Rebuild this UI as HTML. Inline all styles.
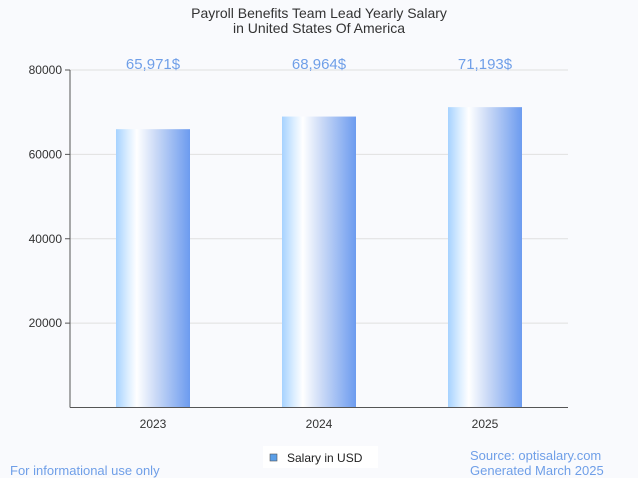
<!DOCTYPE html>
<html><head><meta charset="utf-8"><style>
body{margin:0;background:#f9fafd;font-family:"Liberation Sans",sans-serif;}
#c{position:relative;width:638px;height:478px;background:#f9fafd;overflow:hidden}
.t{position:absolute;white-space:nowrap}
</style></head><body>
<div id="c">
<svg id="s" width="638" height="478" style="position:absolute;left:0;top:0">
<defs><linearGradient id="g" x1="0" x2="1" y1="0" y2="0">
<stop offset="0" stop-color="#a6d2ff"/><stop offset="0.15" stop-color="#d8ecff"/><stop offset="0.28" stop-color="#ffffff"/><stop offset="0.55" stop-color="#c8d8f6"/><stop offset="1" stop-color="#6c9bef"/></linearGradient></defs>
<text x="319" y="18" text-anchor="middle" font-size="14" fill="#333">Payroll Benefits Team Lead Yearly Salary</text>
<text x="319" y="33" text-anchor="middle" font-size="14" fill="#333">in United States Of America</text>
<g id="grid"></g><g id="bars"></g>
<line x1="70" y1="70" x2="70" y2="407.5" stroke="#555"/>
<line x1="70" y1="407.5" x2="568" y2="407.5" stroke="#555"/>
<rect x="263" y="446" width="115" height="22" fill="#fff"/>
<rect x="270" y="454" width="7" height="7" fill="#5a9fe8" stroke="#555" stroke-width="0.6"/>
<text x="287" y="462" font-size="12" fill="#222">Salary in USD</text>
<text x="10" y="475" font-size="13" fill="#6f9fe8">For informational use only</text>
<text x="470" y="460" font-size="13" fill="#6f9fe8">Source: optisalary.com</text>
<text x="470" y="475" font-size="13" fill="#6f9fe8">Generated March 2025</text>
</svg>
</div>
<script>
const categories=["2023","2024","2025"];
const salaries=[65971,68964,71193];
const valueLabels=["65,971$","68,964$","71,193$"];
const yTicks=[20000,40000,60000,80000];
const NS="http://www.w3.org/2000/svg";
const x0=70,x1=568,yBase=407.5,yTop=70,yMax=80000;
const y=v=>yBase-(v/yMax)*(yBase-yTop);
const band=(x1-x0)/categories.length;
const xc=i=>x0+band*(i+0.5);
const grid=document.getElementById('grid'),bars=document.getElementById('bars');
function mk(t,a,p){const e=document.createElementNS(NS,t);for(const k in a)e.setAttribute(k,a[k]);p.appendChild(e);return e;}
yTicks.forEach(v=>{
 const l=mk('line',{x1:x0,x2:x1,y1:y(v),y2:y(v),stroke:'#e0e0e0'},grid);
 
 
 const tk=mk('line',{x1:x0-5,x2:x0,y1:y(v),y2:y(v),stroke:'#555'},grid);
 
 
 const t=mk('text',{x:x0-8,y:y(v)+4,'text-anchor':'end','font-size':12,fill:'#333'},grid);
 t.textContent=v;
 
 
});
categories.forEach((c,i)=>{
 const bw=74;
 const r=mk('rect',{x:xc(i)-bw/2,y:y(salaries[i]),width:bw,height:yBase-y(salaries[i]),fill:'url(#g)'},bars);
 
 
 const v=mk('text',{x:xc(i),y:69,'text-anchor':'middle','font-size':15,fill:'#6f9fe8'},bars);
 v.textContent=valueLabels[i];
 
 
 const t=mk('text',{x:xc(i),y:428,'text-anchor':'middle','font-size':12,fill:'#333'},bars);
 t.textContent=c;
 
 
});
</script>
</body></html>
